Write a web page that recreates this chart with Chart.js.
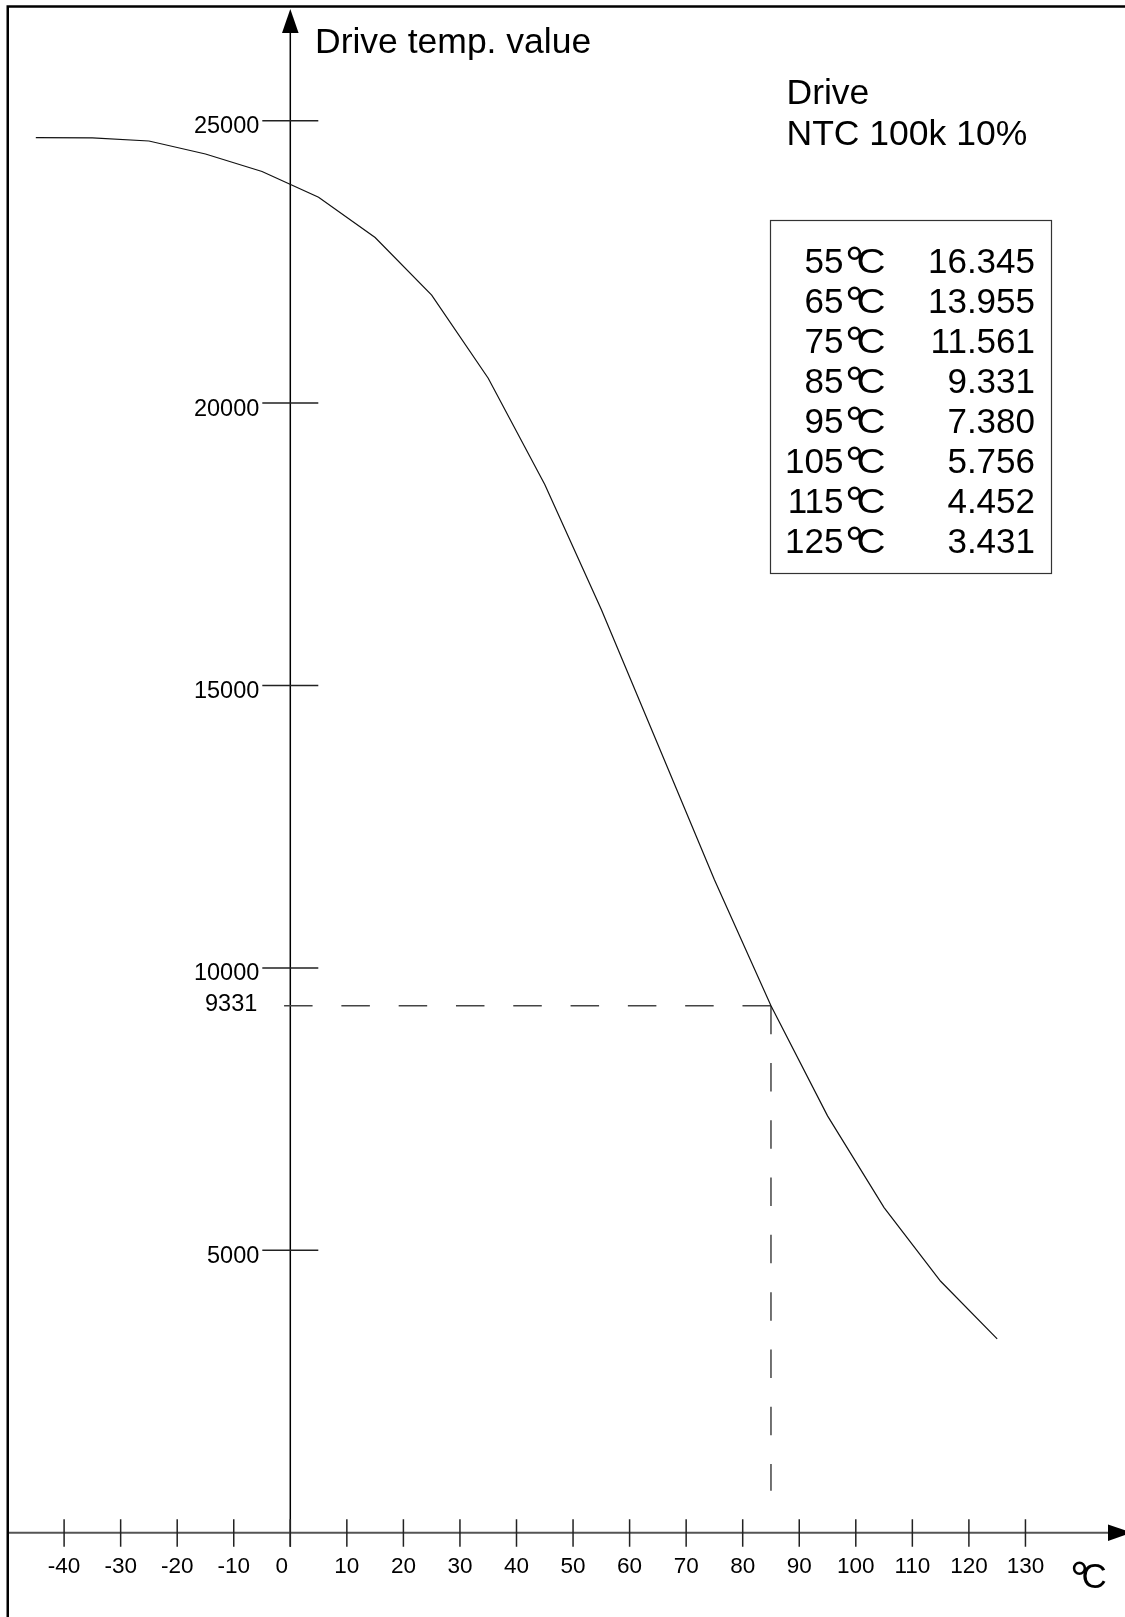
<!DOCTYPE html>
<html>
<head>
<meta charset="utf-8">
<title>Drive temp. value</title>
<script src="https://cdn.jsdelivr.net/npm/chart.js@4.4.1/dist/chart.umd.min.js"></script>
<style>
  html, body { margin: 0; padding: 0; background: #fff; }
  canvas { display: block; }
</style>
</head>
<body>
<canvas id="ntcChart" width="1125" height="1617"></canvas>
<script>
// 曲线数据（温度 / 驱动温度值）
const temps = [-45, -35, -25, -15, -5, 5, 15, 25, 35, 45, 55, 65, 75, 85, 95, 105, 115, 125];
const driveValues = [24700, 24695, 24640, 24410, 24100, 23645, 22930, 21910, 20440, 18560, 16345, 13955, 11561, 9331, 7380, 5756, 4452, 3431];

// 坐标轴刻度
const xTickValues = [-40, -30, -20, -10, 0, 10, 20, 30, 40, 50, 60, 70, 80, 90, 100, 110, 120, 130];
const yTickValues = [5000, 10000, 15000, 20000, 25000];

// 右上角表格
const tableTemps = [55, 65, 75, 85, 95, 105, 115, 125];
const tableValues = ['16.345', '13.955', '11.561', '9.331', '7.380', '5.756', '4.452', '3.431'];

// 标记点
const markTemp = 85;
const markValue = 9331;

const FONT = "'Liberation Sans', Arial, sans-serif";

function arrow(ctx, tipX, tipY, dir) {
  ctx.beginPath();
  if (dir === 'up') {
    ctx.moveTo(tipX, tipY);
    ctx.lineTo(tipX - 8.3, tipY + 24);
    ctx.lineTo(tipX + 8.3, tipY + 24);
  } else {
    ctx.moveTo(tipX, tipY);
    ctx.lineTo(tipX - 24, tipY - 8.3);
    ctx.lineTo(tipX - 24, tipY + 8.3);
  }
  ctx.closePath();
  ctx.fill();
}

// 画 "°C"：大圆圈 + C，紧挨着
function drawDegC(ctx, x, by, size, cScale) {
  ctx.save();
  ctx.textAlign = 'left';
  ctx.font = `${size * 1.35}px ${FONT}`;
  ctx.fillText('°', x - size * 0.03, by + size * 0.2);
  ctx.font = `${size}px ${FONT}`;
  ctx.translate(x + size * 0.3, by);
  ctx.scale(cScale, 1);
  ctx.fillText('C', 0, 0);
  ctx.restore();
}

const axesPlugin = {
  id: 'ntcAxes',
  beforeDatasetsDraw(chart) {
    const { ctx, scales: { x, y } } = chart;
    const x0 = x.getPixelForValue(0);
    const y0 = y.getPixelForValue(0);
    ctx.save();

    // 外框
    ctx.strokeStyle = '#000';
    ctx.lineWidth = 2.5;
    ctx.beginPath();
    ctx.moveTo(7.75, 1617);
    ctx.lineTo(7.75, 6.5);
    ctx.lineTo(1125, 6.5);
    ctx.stroke();

    // Y 轴
    ctx.lineWidth = 1.5;
    ctx.beginPath();
    ctx.moveTo(x0, 30);
    ctx.lineTo(x0, y0 + 14);
    ctx.stroke();
    ctx.fillStyle = '#000';
    arrow(ctx, x0, 9, 'up');

    // X 轴
    ctx.strokeStyle = '#555';
    ctx.lineWidth = 2;
    ctx.beginPath();
    ctx.moveTo(9, y0);
    ctx.lineTo(1110, y0);
    ctx.stroke();
    arrow(ctx, 1132, y0, 'right');

    // 刻度
    ctx.strokeStyle = '#222';
    ctx.lineWidth = 1.5;
    ctx.beginPath();
    xTickValues.forEach((v) => {
      const px = x.getPixelForValue(v);
      ctx.moveTo(px, y0 - 13.5);
      ctx.lineTo(px, y0 + 14);
    });
    yTickValues.forEach((v) => {
      const py = y.getPixelForValue(v);
      ctx.moveTo(x0 - 28, py);
      ctx.lineTo(x0 + 28, py);
    });
    ctx.stroke();

    // 虚线标记
    const mx = x.getPixelForValue(markTemp);
    const my = y.getPixelForValue(markValue);
    ctx.strokeStyle = '#444';
    ctx.lineWidth = 1.5;
    ctx.setLineDash([28.5, 28.8]);
    ctx.beginPath();
    ctx.moveTo(mx, my);
    ctx.lineTo(x0 - 7.5, my);
    ctx.stroke();
    ctx.beginPath();
    ctx.moveTo(mx, my);
    ctx.lineTo(mx, y0 - 42);
    ctx.stroke();
    ctx.restore();
  },
  afterDraw(chart) {
    const { ctx, scales: { x, y } } = chart;
    const x0 = x.getPixelForValue(0);
    const y0 = y.getPixelForValue(0);
    ctx.save();
    ctx.fillStyle = '#000';
    ctx.textBaseline = 'alphabetic';

    // Y 轴刻度标签
    ctx.font = `23.5px ${FONT}`;
    ctx.textAlign = 'right';
    yTickValues.forEach((v) => {
      ctx.fillText(String(v), x0 - 31, y.getPixelForValue(v) + 12.6);
    });
    ctx.fillText(String(markValue), x0 - 33, y.getPixelForValue(markValue) + 5);

    // X 轴刻度标签
    ctx.font = `22.5px ${FONT}`;
    ctx.textAlign = 'center';
    xTickValues.forEach((v) => {
      const px = x.getPixelForValue(v) + (v === 0 ? -8.5 : 0);
      ctx.fillText(String(v), px, y0 + 40);
    });

    // 轴标题
    ctx.font = `35.5px ${FONT}`;
    ctx.textAlign = 'left';
    ctx.fillText('Drive temp. value', 315, 53);
    drawDegC(ctx, 1071, 1588, 35, 1);

    // 说明文字
    ctx.font = `35.5px ${FONT}`;
    ctx.fillText('Drive', 786.5, 104);
    ctx.fillText('NTC 100k 10%', 786.5, 145);

    // 表格
    ctx.strokeStyle = '#333';
    ctx.lineWidth = 1.2;
    ctx.strokeRect(770.5, 220.5, 281, 353);
    tableTemps.forEach((t, i) => {
      const by = 272.7 + i * 40.1;
      ctx.font = `35px ${FONT}`;
      ctx.textAlign = 'right';
      ctx.fillText(String(t), 843.5, by);
      ctx.fillText(tableValues[i], 1035, by);
      drawDegC(ctx, 846, by, 35, 1.15);
    });
    ctx.restore();
  },
};

new Chart(document.getElementById('ntcChart'), {
  type: 'line',
  data: {
    datasets: [
      {
        label: 'Drive NTC 100k 10%',
        data: temps.map((t, i) => ({ x: t, y: driveValues[i] })),
        borderColor: '#111',
        borderWidth: 1.2,
        pointRadius: 0,
        tension: 0,
        fill: false,
        clip: false,
      },
    ],
  },
  options: {
    responsive: false,
    animation: false,
    events: [],
    layout: {
      padding: { left: 7.55, right: 43, top: 7.7, bottom: 84.3 },
    },
    scales: {
      x: { type: 'linear', min: -50, max: 140, display: false },
      y: { type: 'linear', min: 0, max: 27000, display: false },
    },
    plugins: {
      legend: { display: false },
      tooltip: { enabled: false },
    },
  },
  plugins: [axesPlugin],
});
</script>
</body>
</html>
